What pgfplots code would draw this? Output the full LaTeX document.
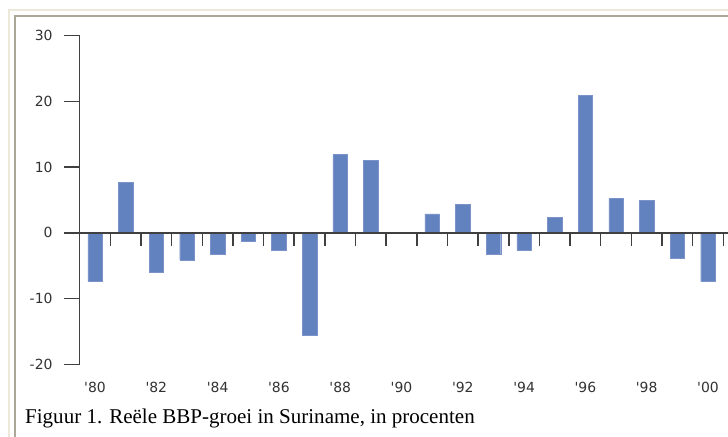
\documentclass[border=0pt]{standalone}
\usepackage{fontspec}
\setmainfont{Liberation Serif}
\newfontfamily\tickfont{DejaVu Sans}
\usepackage{pgfplots}
\pgfplotsset{compat=1.18}

\definecolor{barblue}{RGB}{98,129,191}
\definecolor{axisgrey}{RGB}{64,64,64}
\definecolor{labelgrey}{RGB}{50,50,50}
\definecolor{frameout}{RGB}{236,233,216}
\definecolor{framein}{RGB}{172,168,153}

\begin{document}
\begin{tikzpicture}
\useasboundingbox (0,0) rectangle (728bp,437bp);
\clip (0,0) rectangle (728bp,437bp);
% panel frame (cropped at right and bottom)
\draw[frameout, line width=1.5bp] (9bp,-10bp) -- (9bp,427bp) -- (740bp,427bp);
\draw[framein, line width=1.2bp] (15bp,-10bp) -- (15bp,421bp) -- (740bp,421bp);

% x = years since 1980
\begin{axis}[
	at={(79.7bp,72.7bp)}, anchor=south west,
	scale only axis,
	width=648.2bp, height=328.6bp,
	xmin=-0.5, xmax=20.65,
	ymin=-20, ymax=30,
	clip=false,
	axis y line=left,
	axis x line=bottom,
	x axis line style={draw=none},
	y axis line style={draw=axisgrey, line width=1.5bp, -},
	ytick={-20,-10,0,10,20,30},
	tick align=outside,
	major tick length=16bp,
	ytick style={draw=axisgrey, line width=1.5bp},
	xtick={0,2,...,20},
	xticklabels={{'80},{'82},{'84},{'86},{'88},{'90},{'92},{'94},{'96},{'98},{'00}},
	xtick style={draw=none},
	xticklabel style={anchor=center, yshift=-7bp},
	yticklabel style={anchor=east, inner sep=0pt, xshift=-11bp},
	tick label style={font=\tickfont\fontsize{14}{16}\selectfont, text=labelgrey},
	/pgf/number format/assume math mode=true,
]
\addplot[ybar, bar width=14.5bp, fill=barblue, draw=barblue!85!white]
coordinates {
(0,-7.4) (1,7.7) (2,-6.0) (3,-4.1) (4,-3.2) (5,-1.3)
(6,-2.7) (7,-15.6) (8,11.9) (9,11.05) (10,0) (11,2.9)
(12,4.3) (13,-3.2) (14,-2.7) (15,2.4) (16,20.9) (17,5.2)
(18,4.9) (19,-3.8) (20,-7.4)
};
% zero line and the ticks between the years
\draw[axisgrey, line width=1.5bp] (axis cs:-0.5,0) -- (axis cs:20.65,0);
\pgfplotsinvokeforeach{0.5,1.5,...,20.5}{
	\draw[axisgrey, line width=1.5bp] (axis cs:#1,0) -- (axis cs:#1,-1.98);
}
\end{axis}

\node[anchor=base west, inner sep=0pt, font=\fontsize{21.1}{25}\selectfont]
	at (25bp,13.7bp) {Figuur 1. Reële BBP-groei in Suriname, in procenten};
\end{tikzpicture}
\end{document}
